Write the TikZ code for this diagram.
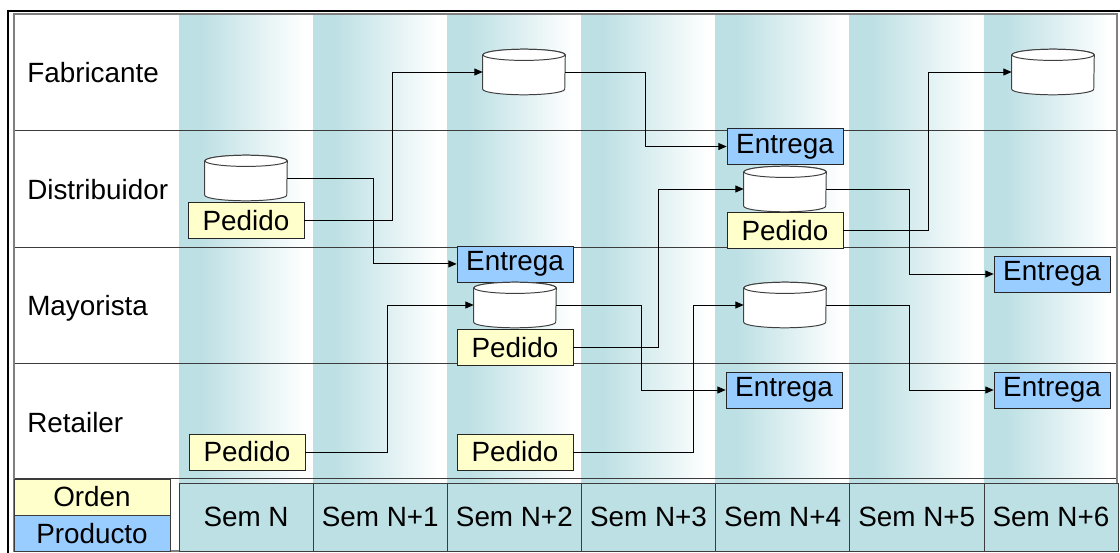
\documentclass[tikz,border=0pt]{standalone}
\usepackage{fontspec}
\setmainfont{Liberation Sans}
\usetikzlibrary{positioning, arrows.meta, shapes.geometric}
\usepackage{xcolor}
\definecolor{laneteal}{RGB}{189,224,228}
\definecolor{ordenyel}{RGB}{255,255,204}
\definecolor{prodblue}{RGB}{153,204,255}
\definecolor{rulegray}{RGB}{60,60,60}
\pgfdeclarehorizontalshading{weekfade}{100bp}{color(0bp)=(laneteal); color(33bp)=(laneteal); color(72bp)=(white); color(100bp)=(white)}

\begin{document}
\begin{tikzpicture}[
                x=0.025cm, y=-0.025cm,
                font=\fontsize{19.8}{23}\selectfont,
                pedido/.style={rectangle, draw=black!85, fill=ordenyel, minimum width=2.9cm, minimum height=0.9cm, inner sep=0pt},
                entrega/.style={pedido, fill=prodblue},
                tank/.style={rectangle, minimum width=2.05cm, minimum height=1.125cm, inner sep=0pt},
                tankline/.style={draw=black!75, fill=white, line width=0.7pt},
                week/.style={rectangle, draw=rulegray, fill=laneteal, minimum width=3.3535cm, minimum height=1.7cm, inner sep=0pt},
                legend/.style={rectangle, draw=rulegray, minimum width=3.9cm, minimum height=0.9cm, inner sep=0pt},
                lane/.style={draw=rulegray, line width=0.7pt},
                flow/.style={-{Triangle[length=6pt, width=5pt]}, line width=0.7pt}
            ]
            \useasboundingbox (0,0) rectangle (1120,553);
            \fill[white] (0,0) rectangle (1120,553);
            \begin{scope}
                \clip (0,0) rectangle (1120,553);
                \draw[black, line width=0.8pt] (8,11) rectangle (1140,570);
            \end{scope}

            % week columns
            \foreach \i in {0,...,6}
                \shade[shading=weekfade] ({179+134.14*\i},14) rectangle ++(134.14,469);

            \draw[lane] (14,130) -- (1117,130);
            \draw[lane] (14,247) -- (1117,247);
            \draw[lane] (14,363) -- (1117,363);
            \draw[lane] (14,478) -- (1117,478);
            \draw[gray, line width=1.4pt] (14,14) rectangle (1117,551);

            \foreach \name/\y in {Fabricante/82, Distribuidor/199, Mayorista/315, Retailer/432}
                \node[anchor=base west, inner sep=0pt] (lbl\name) at (27,\y) {\name};

            \foreach \i/\txt in {0/Sem N, 1/Sem N+1, 2/Sem N+2, 3/Sem N+3, 4/Sem N+4, 5/Sem N+5, 6/Sem N+6}
                \node[week] (sem\i) at ({179+134.14*\i+67.07},517) {\txt};

            \node[legend, fill=ordenyel] (orden) at (92,497) {Orden};
            \node[legend, fill=prodblue, below=0pt of orden] (producto) {Producto};

            \node[tank] (fabA) at (524,72) {};
            \node[tank] (fabB) at (1053,72) {};

            \node[tank] (distA) at (246,178) {};
            \node[pedido, below=1pt of distA] (pedDistA) {Pedido};
            \node[tank] (distB) at (785,189) {};
            \node[entrega, above=1pt of distB] (entDist) {Entrega};
            \node[pedido, below=0pt of distB] (pedDistB) {Pedido};

            \node[tank] (mayA) at (515,305) {};
            \node[entrega, above=0pt of mayA] (entMayA) {Entrega};
            \node[pedido, below=1pt of mayA] (pedMayA) {Pedido};
            \node[tank] (mayB) at (785,305) {};
            \node[entrega] (entMayB) at (1052,274) {Entrega};

            \node[pedido] (pedRetA) at (247,452) {Pedido};
            \node[pedido] (pedRetB) at (515,452) {Pedido};
            \node[entrega] (entRetA) at (784,390) {Entrega};
            \node[entrega] (entRetB) at (1052,390) {Entrega};

            % stock cylinders
            \foreach \t in {fabA, fabB, distA, distB, mayA, mayB} {
                \filldraw[tankline] ([yshift=-0.14cm]\t.north west) -- ([yshift=0.14cm]\t.south west)
                    arc[start angle=180, end angle=360, x radius=1.025cm, y radius=0.14cm]
                    -- ([yshift=-0.14cm]\t.north east)
                    arc[start angle=0, end angle=180, x radius=1.025cm, y radius=0.14cm] -- cycle;
                \draw[tankline] ([yshift=-0.14cm]\t.north) ellipse[x radius=1.025cm, y radius=0.14cm];
            }

            \draw[flow] (pedDistA.east) -- ++(88,0) |- (fabA.west);
            \draw[flow] (distA.east) -- ++(86,0) |- (entMayA.west);
            \draw[flow] (fabA.east) -- ++(80,0) |- (entDist.west);
            \draw[flow] (pedMayA.east) -- ++(85,0) |- (distB.west);
            \draw[flow] (pedRetA.east) -- ++(82,0) |- (mayA.west);
            \draw[flow] (mayA.east) -- ++(85,0) |- (entRetA.west);
            \draw[flow] (pedRetB.east) -- ++(120,0) |- (mayB.west);
            \draw[flow] (distB.east) -- ++(83,0) |- (entMayB.west);
            \draw[flow] (pedDistB.east) -- ++(85,0) |- (fabB.west);
            \draw[flow] (mayB.east) -- ++(83,0) |- (entRetB.west);
        \end{tikzpicture}
\end{document}
